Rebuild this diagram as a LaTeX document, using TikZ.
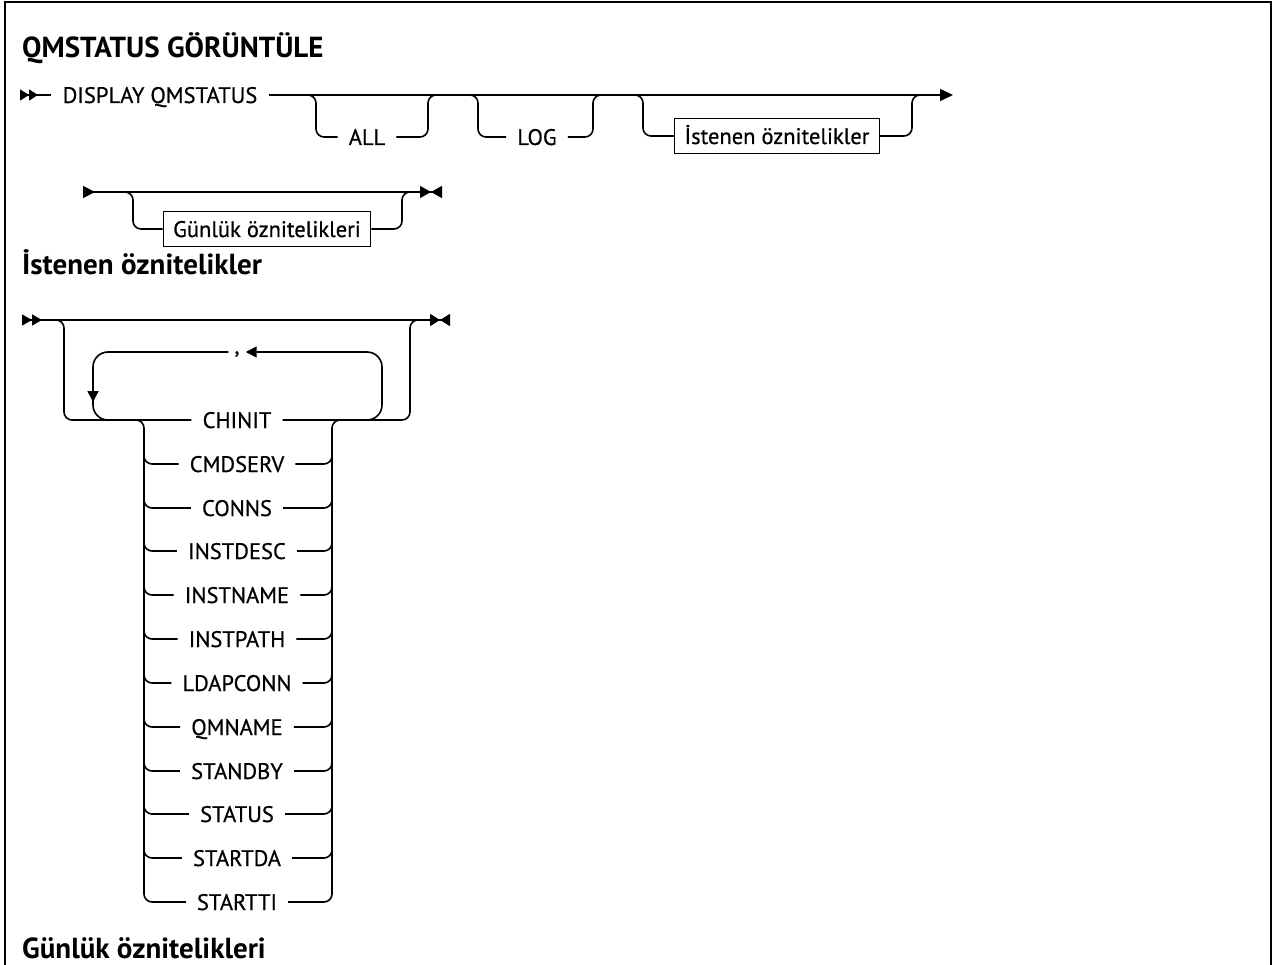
\documentclass[tikz,border=0pt]{standalone}
\usepackage{fontspec}
\setmainfont{PT Sans}
\newfontfamily\railfont{PT Sans}[FakeBold=0.6]
\usetikzlibrary{arrows.meta}
\tikzset{every node/.style={font=\railfont\fontsize{22.5}{27}\selectfont},line cap=round,line join=round,
  rail/.style={line width=1.6pt,rounded corners=8pt},
  kw/.style={inner xsep=11pt,inner ysep=0pt,text height=16pt,text depth=0pt},
  refbox/.style={draw,line width=1.3pt,inner xsep=10pt,inner ysep=0pt,minimum height=35pt,text height=17pt,text depth=1pt},
  heading/.style={font=\rmfamily\bfseries\fontsize{29}{34}\selectfont,anchor=base west,inner sep=0pt}}

\begin{document}
\begin{tikzpicture}[x=1pt,y=-1pt]
  \useasboundingbox (0,0) rectangle (1276,965);
  \draw[line width=2pt] (5,965) -- (5,2) -- (1271,2) -- (1271,965);

  % QMSTATUS GORUNTULE
  \node[heading] (title) at (22,58) {QMSTATUS GÖRÜNTÜLE};
  \node[kw] (dq) at (160,95) {DISPLAY QMSTATUS};
  \draw[rail,{Triangle[reversed,length=9pt,width=11pt,sep=0pt]Triangle[reversed,length=9pt,width=11pt,sep=0pt]}-] (20,95) -- (dq.west);
  \draw[rail,-{Triangle[length=13pt,width=12pt]}] (dq.east) -- (953,95);
  \node[kw] (all) at (367,137) {ALL};
  \draw[rail] (306,95) -- (316,95) -- (316,137) -- (all.west);
  \draw[rail] (all.east) -- (428,137) -- (428,95) -- (438,95);
  \node[kw] (log) at (537,137) {LOG};
  \draw[rail] (468,95) -- (478,95) -- (478,137) -- (log.west);
  \draw[rail] (log.east) -- (593,137) -- (593,95) -- (603,95);
  \node[refbox] (reqbox) at (777,136) {İstenen öznitelikler};
  \draw[rail] (633,95) -- (643,95) -- (643,136) -- (reqbox.west);
  \draw[rail] (reqbox.east) -- (912,136) -- (912,95) -- (922,95);

  \draw[rail,{Triangle[reversed,length=12pt,width=12pt]}-{Triangle[length=11pt,width=12pt,sep=0pt]Triangle[reversed,length=11pt,width=12pt]}] (83,192) -- (442,192);
  \node[refbox] (logbox) at (267,229) {Günlük öznitelikleri};
  \draw[rail] (123,192) -- (133,192) -- (133,229) -- (logbox.west);
  \draw[rail] (logbox.east) -- (402,229) -- (402,192) -- (412,192);

  % Istenen oznitelikler
  \node[heading] (reqhead) at (22,275) {İstenen öznitelikler};
  \draw[rail,{Triangle[reversed,length=10pt,width=11pt,sep=0pt]Triangle[reversed,length=10pt,width=11pt,sep=0pt]}-{Triangle[length=10pt,width=12pt,sep=0pt]Triangle[reversed,length=10pt,width=12pt]}] (22,320) -- (450,320);
  \foreach \nm/\y/\txt in {chinit/420/CHINIT,cmdserv/464/CMDSERV,conns/508/CONNS,instdesc/551/INSTDESC,
      instname/595/INSTNAME,instpath/639/INSTPATH,ldapconn/683/LDAPCONN,qmname/727/QMNAME,
      standby/771/STANDBY,status/814/STATUS,startda/858/STARTDA,startti/902/STARTTI}
    \node[kw] (\nm) at (237,\y) {\txt};
  \draw[rail] (54,320) -- (64,320) -- (64,420) -- (chinit.west);
  \draw[rail] (chinit.east) -- (410,420) -- (410,320) -- (420,320);
  \node[kw,inner xsep=6pt,text height=3pt] (comma) at (237,352) {,};
  \draw[rail,rounded corners=15pt,-{Triangle[length=11pt,width=11pt]}] (366,420) -- (382,420) -- (382,352) -- (comma.east);
  \draw[rail,rounded corners=15pt,-{Triangle[length=11pt,width=11pt]}] (comma.west) -- (93,352) -- (93,402);
  \draw[rail,rounded corners=15pt] (93,398) -- (93,420) -- (110,420);
  \draw[rail] (136,420) -- (144,420) -- (144,902) -- (startti.west);
  \draw[rail] (startti.east) -- (332,902) -- (332,420) -- (340,420);
  \foreach \nm/\y in {cmdserv/464,conns/508,instdesc/551,instname/595,instpath/639,
      ldapconn/683,qmname/727,standby/771,status/814,startda/858} {
    \draw[rail] (144,\y-12) -- (144,\y) -- (\nm.west);
    \draw[rail] (\nm.east) -- (332,\y) -- (332,\y-12);
  }

  % Gunluk oznitelikleri
  \node[heading] (loghead) at (22,958) {Günlük öznitelikleri};
\end{tikzpicture}
\end{document}
